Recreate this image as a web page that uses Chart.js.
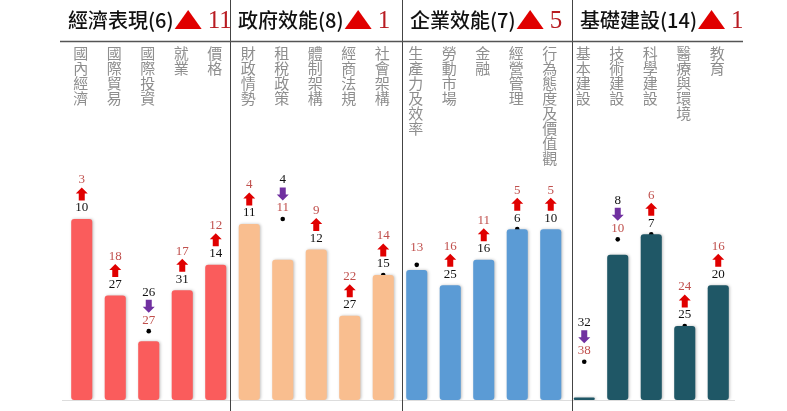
<!DOCTYPE html>
<html>
<head>
<meta charset="utf-8">
<script src="https://cdn.jsdelivr.net/npm/chart.js@4"></script>
<style>
  html, body { margin: 0; padding: 0; background: #fff; }
  #wrap { width: 787px; height: 411px; }
</style>
</head>
<body>
<div id="wrap"><canvas id="rank-chart" width="787" height="411"></canvas></div>
<script>
// 分項名稱 (每組 5 項)
const categories = [
    '國內經濟', '國際貿易', '國際投資', '就業', '價格',
    '財政情勢', '租稅政策', '體制架構', '經商法規', '社會架構',
    '生產力及效率', '勞動市場', '金融', '經營管理', '行為態度及價值觀',
    '基本建設', '技術建設', '科學建設', '醫療與環境', '教育'
];
// 今年排名 (柱狀)
const rankNow = [3, 18, 27, 17, 12, 4, 11, 9, 22, 14, 13, 16, 11, 5, 5, 38, 10, 6, 24, 16];
// 去年排名 (黑點)
const rankPrev = [10, 27, 26, 31, 14, 11, 4, 12, 27, 15, 13, 25, 16, 6, 10, 32, 8, 7, 25, 20];

// 四大要素
const groups = ['經濟表現', '政府效能', '企業效能', '基礎建設'];
const groupRank = [6, 8, 7, 14];
const groupGain = [11, 1, 5, 1];

// 色彩
const groupColors = ['#fa5c5c', '#f9be8f', '#5b9bd5', '#1f5766'];
const RED_TEXT = '#c0504d';
const UP_COLOR = '#e00000';
const DOWN_COLOR = '#7030a0';

const PER_GROUP = 5;
const RANK_BOTTOM = 38.5;
// 區塊分隔線 (版面)
const DIVIDERS = [230, 402, 572];

/**
 * 方塊箭頭
 */
function drawArrow(ctx, x, y, up, color) {
    const hw = 6, sw = 3, h = 13, head = 6;
    const dir = up ? -1 : 1;
    const tip = y + dir * h / 2;
    const neck = tip - dir * head;
    const tail = y - dir * h / 2;
    ctx.save();
    ctx.fillStyle = color;
    ctx.beginPath();
    ctx.moveTo(x, tip);
    ctx.lineTo(x + hw, neck);
    ctx.lineTo(x + sw, neck);
    ctx.lineTo(x + sw, tail);
    ctx.lineTo(x - sw, tail);
    ctx.lineTo(x - sw, neck);
    ctx.lineTo(x - hw, neck);
    ctx.closePath();
    ctx.fill();
    ctx.restore();
}

// 排名標示 (數字 + 箭頭)
const rankLabels = {
    id: 'rankLabels',
    afterDatasetsDraw(chart) {
        const ctx = chart.ctx;
        const ys = chart.scales.y;
        const dotMeta = chart.getDatasetMeta(1);
        ctx.save();
        ctx.font = '13px "Liberation Serif", "DejaVu Serif", serif';
        ctx.textAlign = 'center';
        ctx.textBaseline = 'middle';
        rankNow.forEach((now, i) => {
            const prev = rankPrev[i];
            const x = dotMeta.data[i].x;
            const anchor = Math.min(ys.getPixelForValue(now), dotMeta.data[i].y);
            if (now === prev) {
                ctx.fillStyle = RED_TEXT;
                ctx.fillText(String(now), x, anchor - 17);
                return;
            }
            const up = now < prev;
            const lower = up ? prev : now;
            const upper = up ? now : prev;
            ctx.fillStyle = up ? '#111' : RED_TEXT;
            ctx.fillText(String(lower), x, anchor - 11);
            drawArrow(ctx, x, anchor - 25, up, up ? UP_COLOR : DOWN_COLOR);
            ctx.fillStyle = up ? RED_TEXT : '#111';
            ctx.fillText(String(upper), x, anchor - 39);
        });
        ctx.restore();
    }
};

// 外框、標題、分項文字
const frame = {
    id: 'frame',
    beforeDatasetsDraw(chart) {
        const ctx = chart.ctx;
        const area = chart.chartArea;
        ctx.save();
        ctx.strokeStyle = '#dddddd';
        ctx.lineWidth = 1;
        ctx.beginPath();
        ctx.moveTo(area.left - 3, area.bottom + 0.5);
        ctx.lineTo(area.right, area.bottom + 0.5);
        ctx.stroke();
        ctx.restore();
    },
    afterDraw(chart) {
        const ctx = chart.ctx;
        const xs = chart.scales.x;
        const area = chart.chartArea;
        const bounds = [area.left - 5, ...DIVIDERS, area.right + 8];

        ctx.save();
        ctx.strokeStyle = '#444';
        ctx.lineWidth = 1;
        DIVIDERS.forEach(d => {
            ctx.beginPath();
            ctx.moveTo(d + 0.5, 0);
            ctx.lineTo(d + 0.5, chart.height);
            ctx.stroke();
        });
        ctx.strokeStyle = '#555';
        ctx.lineWidth = 1.5;
        ctx.beginPath();
        ctx.moveTo(bounds[0], 41.5);
        ctx.lineTo(bounds[bounds.length - 1], 41.5);
        ctx.stroke();

        // 標題
        groups.forEach((name, g) => {
            let x = bounds[g] + 8;
            ctx.textBaseline = 'middle';
            ctx.textAlign = 'left';
            ctx.fillStyle = '#111';
            ctx.font = '500 20px "Noto Sans CJK TC", "Noto Sans", sans-serif';
            const title = `${name}(${groupRank[g]})`;
            ctx.fillText(title, x, 20);
            x += ctx.measureText(title).width + 1;
            ctx.fillStyle = UP_COLOR;
            ctx.beginPath();
            ctx.moveTo(x, 29);
            ctx.lineTo(x + 27, 29);
            ctx.lineTo(x + 13.5, 10);
            ctx.closePath();
            ctx.fill();
            x += 33;
            ctx.fillStyle = '#b81c22';
            ctx.font = '25px "Liberation Serif", "DejaVu Serif", serif';
            ctx.fillText(String(groupGain[g]), x, 21);
        });

        // 直排分項名稱
        ctx.fillStyle = '#8e8e8e';
        ctx.font = '15px "Noto Sans CJK TC", sans-serif';
        ctx.textAlign = 'center';
        ctx.textBaseline = 'middle';
        categories.forEach((label, i) => {
            const x = xs.getPixelForValue(i) - 1;
            Array.from(label).forEach((ch, k) => {
                ctx.fillText(ch, x, 53 + k * 15);
            });
        });
        ctx.restore();
    }
};

// 柱狀陰影 (柔化邊緣)
const barGlow = {
    id: 'barGlow',
    beforeDatasetDraw(chart, args) {
        if (args.index !== 0) return;
        const ctx = chart.ctx;
        ctx.save();
        ctx.shadowColor = 'rgba(0,0,0,0.25)';
        ctx.shadowBlur = 3;
        ctx.shadowOffsetX = 1;
        ctx.shadowOffsetY = 0;
    },
    afterDatasetDraw(chart, args) {
        if (args.index !== 0) return;
        chart.ctx.restore();
    }
};

const ctx = document.getElementById('rank-chart');
new Chart(ctx.getContext('2d'), {
    type: 'bar',
    data: {
        labels: categories,
        datasets: [{
            type: 'bar',
            data: rankNow.map(r => [r, RANK_BOTTOM]),
            backgroundColor: categories.map((_, i) => groupColors[Math.floor(i / PER_GROUP)]),
            borderRadius: 3,
            borderSkipped: false,
            barPercentage: 0.63,
            categoryPercentage: 1,
            yAxisID: 'y',
        }, {
            type: 'line',
            data: rankPrev,
            showLine: false,
            pointRadius: 2.3,
            pointBackgroundColor: '#000',
            pointBorderWidth: 0,
            yAxisID: 'y2',
        }]
    },
    options: {
        responsive: false,
        animation: false,
        devicePixelRatio: 1,
        layout: {
            padding: { left: 65, right: 52, top: 44, bottom: 11 }
        },
        plugins: {
            legend: { display: false },
            tooltip: { enabled: false },
        },
        scales: {
            x: { display: false, offset: true },
            y: { display: false, reverse: true, min: -31.3, max: RANK_BOTTOM },
            y2: { display: false, reverse: true, min: -30.3, max: RANK_BOTTOM + 1 },
        }
    },
    plugins: [barGlow, frame, rankLabels]
});
</script>
</body>
</html>
